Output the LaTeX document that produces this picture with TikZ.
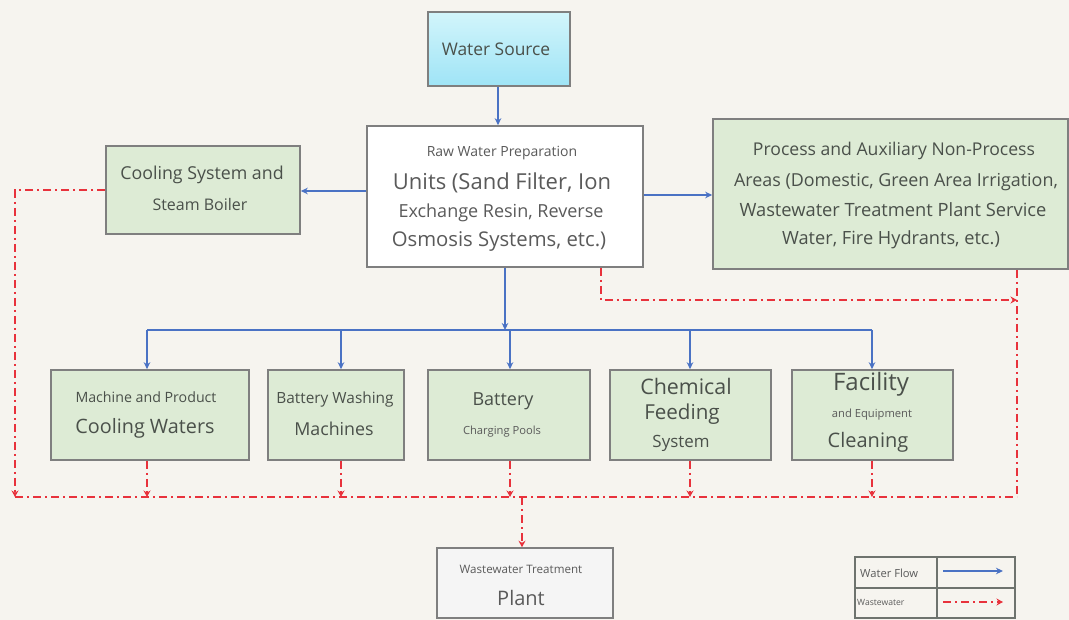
\documentclass[tikz,border=0pt]{standalone}
\usepackage{fontspec}
\setmainfont{Open Sans}
\usetikzlibrary{arrows.meta}
\definecolor{bg}{HTML}{F6F4EF}
\definecolor{gfill}{HTML}{DDEBD5}
\definecolor{bord}{HTML}{7F7F7F}
\definecolor{txtc}{HTML}{4A504A}
\definecolor{txtw}{HTML}{5A5A5A}
\definecolor{bflow}{HTML}{4A72C4}
\definecolor{rflow}{HTML}{E8323C}
\definecolor{wsTop}{HTML}{D2F5FB}
\definecolor{wsBot}{HTML}{9FE4F6}
\newcommand\fsz[1]{\fontsize{#1}{#1}\selectfont}
\tikzset{
  box/.style={draw=bord, line width=1.6pt, rectangle, inner sep=0pt},
  gbox/.style={box, fill=gfill},
  txt/.style={text=txtc, inner sep=0pt, anchor=center},
  wtxt/.style={txt, text=txtw},
  flow/.style={draw=bflow, line width=2.2pt, -{Stealth[length=7pt,width=6.5pt]}},
  flowline/.style={draw=bflow, line width=2.2pt},
  waste/.style={draw=rflow, line width=2.6pt, dash pattern=on 8pt off 4pt on 2pt off 4pt, -{Stealth[length=6.5pt,width=7pt]}},
  wasteline/.style={draw=rflow, line width=2.6pt, dash pattern=on 8pt off 4pt on 2pt off 4pt},
}
\begin{document}
\begin{tikzpicture}[x=1pt,y=-1pt]
\fill[bg] (0,0) rectangle (1069,620);
\useasboundingbox (0,0) rectangle (1069,620);

% boxes
\node[box, top color=wsTop, bottom color=wsBot, minimum width=142pt, minimum height=74pt] (ws) at (499,49) {};
\node[box, fill=white, minimum width=276pt, minimum height=141pt] (raw) at (505,196.5) {};
\node[gbox, minimum width=194pt, minimum height=88pt] (cool) at (203,190) {};
\node[gbox, minimum width=355pt, minimum height=150pt] (proc) at (890.5,194) {};
\node[gbox, minimum width=198pt, minimum height=90pt] (mach) at (150,415) {};
\node[gbox, minimum width=136pt, minimum height=90pt] (bwash) at (336,415) {};
\node[gbox, minimum width=162pt, minimum height=90pt] (batt) at (509,415) {};
\node[gbox, minimum width=161pt, minimum height=90pt] (chem) at (690.5,415) {};
\node[gbox, minimum width=161pt, minimum height=90pt] (fac) at (872.5,415) {};
\node[box, fill=gray!8, minimum width=176pt, minimum height=70pt] (wwtp) at (525,583) {};

% texts
\node[txt, font=\fsz{17.4}] (wsT) at (496,49) {Water Source};
\node[wtxt, font=\fsz{14}] (rawA) at (502,153) {Raw Water Preparation};
\node[wtxt, font=\fsz{22}] (rawB) at (502,183) {Units (Sand Filter, Ion};
\node[wtxt, font=\fsz{18}] (rawC) at (501,213) {Exchange Resin, Reverse};
\node[wtxt, font=\fsz{20.3}] (rawD) at (499,241) {Osmosis Systems, etc.)};
\node[txt, font=\fsz{17.6}] (procA) at (894,151) {Process and Auxiliary Non-Process};
\node[txt, font=\fsz{17.9}] (procB) at (896,182) {Areas (Domestic, Green Area Irrigation,};
\node[txt, font=\fsz{18.3}] (procC) at (893,210) {Wastewater Treatment Plant Service};
\node[txt, font=\fsz{18.2}] (procD) at (891,240) {Water, Fire Hydrants, etc.)};
\node[txt, font=\fsz{17.8}] (coolA) at (202,175) {Cooling System and};
\node[txt, font=\fsz{16}] (coolB) at (200,205) {Steam Boiler};
\node[txt, font=\fsz{14.2}] (machA) at (146,397) {Machine and Product};
\node[txt, font=\fsz{19.8}] (machB) at (145,428) {Cooling Waters};
\node[txt, font=\fsz{15.4}] (bwA) at (335,399) {Battery Washing};
\node[txt, font=\fsz{17.8}] (bwB) at (334,429) {Machines};
\node[txt, font=\fsz{18}] (batA) at (503,401) {Battery};
\node[wtxt, font=\fsz{11.2}] (batB) at (502,432) {Charging Pools};
\node[txt, font=\fsz{21.4}] (chemA) at (686,386) {Chemical};
\node[txt, font=\fsz{20.6}] (chemB) at (682,414) {Feeding};
\node[txt, font=\fsz{16.9}] (chemC) at (681,443) {System};
\node[txt, font=\fsz{24}] (facA) at (871,384) {Facility};
\node[wtxt, font=\fsz{11.2}] (facB) at (872,415) {and Equipment};
\node[txt, font=\fsz{20}] (facC) at (868,442) {Cleaning};
\node[wtxt, font=\fsz{11.6}] (wwA) at (521,569) {Wastewater Treatment};
\node[wtxt, font=\fsz{20}] (wwB) at (521,598) {Plant};

% legend
\node[draw=txtc!80, line width=1.2pt, minimum width=160pt, minimum height=61pt, inner sep=0pt] (leg) at (935,587.5) {};
\draw[txtc!80, line width=1.2pt] (937,557) -- (937,618);
\draw[txtc!80, line width=1.2pt] (855,588) -- (1015,588);
\node[wtxt, font=\fsz{11.2}, anchor=west] (legA) at (860,573) {Water Flow};
\node[wtxt, font=\fsz{8.6}, anchor=west] (legB) at (857,602) {Wastewater};
\coordinate (lb1) at (943,571);
\coordinate (lb2) at (1003,571);
\coordinate (lr1) at (943,602);
\coordinate (lr2) at (1003,602);
\draw[flow, line width=1.8pt] (lb1) -- (lb2);
\draw[waste, line width=2.4pt] (lr1) -- (lr2);

% blue water flow
\coordinate (busM) at (505,330);
\coordinate (busL) at (147,330);
\coordinate (busR) at (872,330);
\draw[flow] (ws.south -| 498,0) -- (raw.north -| 498,0);
\draw[flow] (raw.west |- 0,191) -- (cool.east |- 0,191);
\draw[flow] (raw.east |- 0,195) -- (proc.west |- 0,195);
\draw[flow] (raw.south -| busM) -- (busM);
\draw[flowline] (busL) -- (busR);
\draw[flow] (busL) -- (mach.north -| busL);
\draw[flow] (busL -| 341,0) -- (bwash.north -| 341,0);
\draw[flow] (busL -| 510,0) -- (batt.north -| 510,0);
\draw[flow] (busL -| 690,0) -- (chem.north -| 690,0);
\draw[flow] (busR) -- (fac.north -| busR);

% red wastewater
\coordinate (wL) at (15,497);
\coordinate (wR) at (1017,497);
\coordinate (wTop) at (1017,300);
\coordinate (wMid) at (522,497);
\draw[wasteline] (wL) -- (wR);
\draw[waste] (cool.west) -- (cool.west -| wL) -- (wL);
\draw[waste] (raw.south -| 601,0) -- (601,300) -- (wTop);
\draw[wasteline] (proc.south -| wR) -- (wR);
\draw[waste] (mach.south -| 147,0) -- (147,497);
\draw[waste] (bwash.south -| 341,0) -- (341,497);
\draw[waste] (batt.south -| 510,0) -- (510,497);
\draw[waste] (chem.south -| 690,0) -- (690,497);
\draw[waste] (fac.south -| 872,0) -- (872,497);
\draw[waste] (wMid) -- (wwtp.north -| wMid);
\end{tikzpicture}
\end{document}
